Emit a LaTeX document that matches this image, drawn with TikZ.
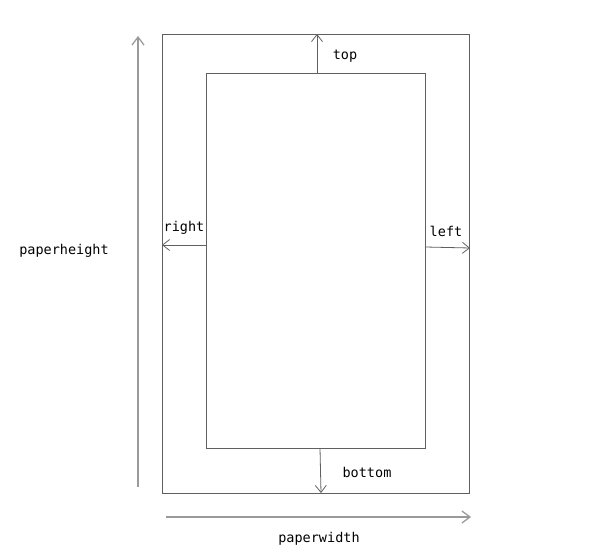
\documentclass[tikz,border=0pt]{standalone}
\usepackage{fontspec}
\setmonofont{DejaVu Sans Mono}
\usetikzlibrary{arrows.meta}
\definecolor{boxline}{HTML}{606060}
\definecolor{dimline}{HTML}{9A9A9A}
\tikzset{
  paperbox/.style={draw=boxline, line width=0.9pt},
  marginarrow/.style={draw=boxline, line width=0.8pt, -{Straight Barb[length=7pt,width=11pt,line width=0.8pt]}},
  dimarrow/.style={draw=dimline, line width=1.5pt, -{Straight Barb[length=8pt,width=12pt,line width=1.3pt]}},
  lbl/.style={font=\ttfamily\fontsize{13.5}{15}\selectfont, text=black, inner sep=0pt}
}
\begin{document}
\begin{tikzpicture}[x=1pt,y=-1pt]
\useasboundingbox (0,0) rectangle (614,559);
\node[paperbox, minimum width=307pt, minimum height=459pt, inner sep=0pt] (outer) at (315.5,263.5) {};
\node[paperbox, minimum width=219pt, minimum height=375pt, inner sep=0pt] (inner) at (315.5,260.5) {};
% margin arrows
\coordinate (topS) at (317,73);
\coordinate (topE) at (317,34);
\draw[marginarrow] (topS) -- (topE);
\coordinate (rightS) at (206,245);
\coordinate (rightE) at (162,245);
\draw[marginarrow] (rightS) -- (rightE);
\coordinate (leftS) at (425,247);
\coordinate (leftE) at (470,248);
\draw[marginarrow] (leftS) -- (leftE);
\coordinate (botS) at (320,448);
\coordinate (botE) at (321,493);
\draw[marginarrow] (botS) -- (botE);
% dimension arrows
\coordinate (phS) at (138,487);
\coordinate (phE) at (138,36);
\draw[dimarrow] (phS) -- (phE);
\coordinate (pwS) at (166,517);
\coordinate (pwE) at (471,517);
\draw[dimarrow] (pwS) -- (pwE);
% labels
\node[lbl] (ltop) at (345,56) {top};
\node[lbl] (lright) at (184,228) {right};
\node[lbl] (lleft) at (446,231) {left};
\node[lbl] (lbottom) at (367,472) {bottom};
\node[lbl] (lph) at (64,251) {paperheight};
\node[lbl] (lpw) at (319,539) {paperwidth};
\end{tikzpicture}
\end{document}
